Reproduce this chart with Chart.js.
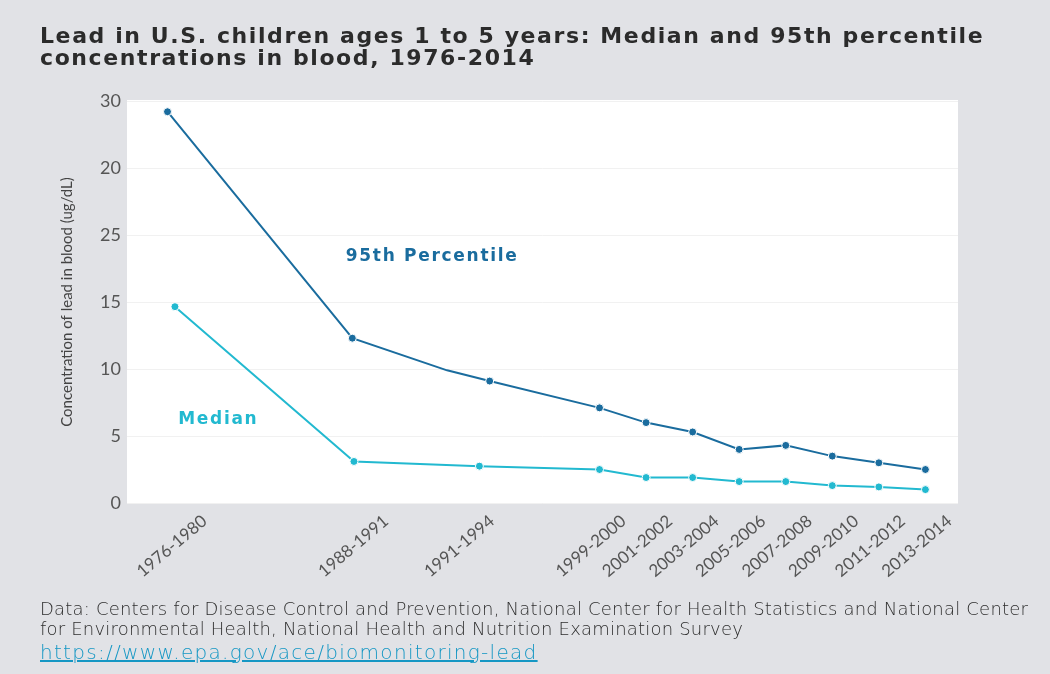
<!DOCTYPE html>
<html>
<head>
<meta charset="utf-8">
<script src="https://cdn.jsdelivr.net/npm/chart.js@4/dist/chart.umd.min.js"></script>
<style>
  html, body { margin: 0; padding: 0; background: #e1e2e6; }
  #wrap { position: relative; width: 1050px; height: 674px; overflow: hidden; }
  #chart { position: absolute; left: 0; top: 0; }
  #title {
    position: absolute; left: 40px; top: 25px;
    font: bold 22px "DejaVu Sans", sans-serif; letter-spacing: 1.6px;
    line-height: 22px; color: #2b2b2b;
  }
  #source {
    position: absolute; left: 40px; top: 599px;
    font: 300 18px "DejaVu Sans", sans-serif; letter-spacing: 0.2px; line-height: 20px; color: #2e2e2e;
  }
  #link {
    position: absolute; left: 40px; top: 640px;
    font: 300 20px "DejaVu Sans", sans-serif; letter-spacing: 1.3px; color: #1597c4; text-decoration: underline;
  }
</style>
</head>
<body>
<div id="wrap">
  <canvas id="chart" width="1050" height="674"></canvas>
  <div id="title">Lead in U.S. children ages 1 to 5 years: Median and 95th percentile<br>concentrations in blood, 1976-2014</div>
  <div id="source">Data: Centers for Disease Control and Prevention, National Center for Health Statistics and National Center<br>for Environmental Health, National Health and Nutrition Examination Survey</div>
  <div id="link">https://www.epa.gov/ace/biomonitoring-lead</div>
</div>
<script>
// Survey periods (x axis labels) and where they sit on the time axis
const periods = ['1976-1980', '1988-1991', '1991-1994', '1999-2000', '2001-2002', '2003-2004',
                 '2005-2006', '2007-2008', '2009-2010', '2011-2012', '2013-2014'];
const periodTicks = [1982.0, 1989.8, 1994.35, 2000, 2002, 2004, 2006, 2008, 2010, 2012, 2014];

// 95th percentile (ug/dL), including the unmarked bend between 1988-1991 and 1991-1994
const p95Years  = [1981.44, 1989.38, 1993.45, 1995.28, 2000, 2002, 2004, 2006, 2008, 2010, 2012, 2014];
const p95Values = [29.2, 12.3, 9.9, 9.1, 7.1, 6.0, 5.3, 4.0, 4.3, 3.5, 3.0, 2.5];
const p95Marked = [true, true, false, true, true, true, true, true, true, true, true, true];

// Median (ug/dL)
const medianYears  = [1981.76, 1989.45, 1994.84, 2000, 2002, 2004, 2006, 2008, 2010, 2012, 2014];
const medianValues = [14.65, 3.1, 2.75, 2.5, 1.9, 1.9, 1.6, 1.6, 1.3, 1.2, 1.0];

// y axis ticks as printed on the original (the 20/25 labels are swapped there)
const yTickValues = [0, 5, 10, 15, 20, 25, 30];
const yTickLabels = ['0', '5', '10', '15', '25', '20', '30'];

const darkBlue = '#1a6c9e';
const cyan = '#22b9d0';

const toPoints = (xs, ys) => xs.map((x, i) => ({ x: x, y: ys[i] }));

// white plot panel behind the lines
const panelPlugin = {
  id: 'panel',
  beforeDraw(chart) {
    const { ctx, chartArea: a } = chart;
    ctx.save();
    ctx.fillStyle = '#ffffff';
    ctx.fillRect(a.left, a.top - 1, a.right - a.left, a.bottom - a.top + 1);
    ctx.restore();
  }
};

// series names written next to the lines
const seriesLabelPlugin = {
  id: 'seriesLabels',
  afterDatasetsDraw(chart) {
    const { ctx, scales } = chart;
    ctx.save();
    ctx.font = 'bold 17px "DejaVu Sans", sans-serif';
    ctx.letterSpacing = '1.7px';
    ctx.textBaseline = 'middle';
    ctx.fillStyle = darkBlue;
    ctx.fillText('95th Percentile', scales.x.getPixelForValue(1989.1), scales.y.getPixelForValue(18.4));
    ctx.fillStyle = cyan;
    ctx.fillText('Median', scales.x.getPixelForValue(1981.9), scales.y.getPixelForValue(6.2));
    ctx.restore();
  }
};

new Chart(document.getElementById('chart'), {
  type: 'line',
  data: {
    datasets: [
      {
        label: '95th Percentile',
        data: toPoints(p95Years, p95Values),
        borderColor: darkBlue,
        backgroundColor: darkBlue,
        borderWidth: 2,
        pointRadius: p95Marked.map(m => m ? 4 : 0),
        pointBorderColor: '#ffffff',
        pointBorderWidth: 1,
        tension: 0
      },
      {
        label: 'Median',
        data: toPoints(medianYears, medianValues),
        borderColor: cyan,
        backgroundColor: cyan,
        borderWidth: 2,
        pointRadius: 4,
        pointBorderColor: '#ffffff',
        pointBorderWidth: 1,
        tension: 0
      }
    ]
  },
  options: {
    responsive: false,
    animation: false,
    devicePixelRatio: 1,
    layout: { padding: { left: 40, top: 101, right: 92, bottom: 91 } },
    plugins: { legend: { display: false }, tooltip: { enabled: false }, title: { display: false } },
    scales: {
      x: {
        type: 'linear',
        min: 1979.7,
        max: 2015.4,
        afterBuildTicks: scale => { scale.ticks = periodTicks.map(v => ({ value: v })); },
        afterFit: scale => { scale.height = 80; },
        grid: { display: false },
        border: { display: false },
        ticks: {
          autoSkip: false,
          minRotation: 40,
          maxRotation: 40,
          padding: 0,
          labelOffset: 24,
          color: '#555',
          font: { family: 'Lato, sans-serif', size: 17 },
          callback: (v, i) => periods[i]
        }
      },
      y: {
        min: 0,
        max: 30,
        afterBuildTicks: scale => { scale.ticks = yTickValues.map(v => ({ value: v })); },
        afterFit: scale => { scale.width = 87; },
        grid: { color: '#f1f1f1', drawTicks: false },
        border: { display: false },
        ticks: {
          padding: 6,
          color: '#555',
          font: { family: 'Lato, sans-serif', size: 18 },
          callback: (v, i) => yTickLabels[i]
        },
        title: {
          display: true,
          text: 'Concentration of lead in blood (ug/dL)',
          color: '#444',
          font: { family: 'Lato, sans-serif', size: 15 },
          padding: { top: 18, bottom: 0 }
        }
      }
    }
  },
  plugins: [panelPlugin, seriesLabelPlugin]
});
</script>
</body>
</html>
